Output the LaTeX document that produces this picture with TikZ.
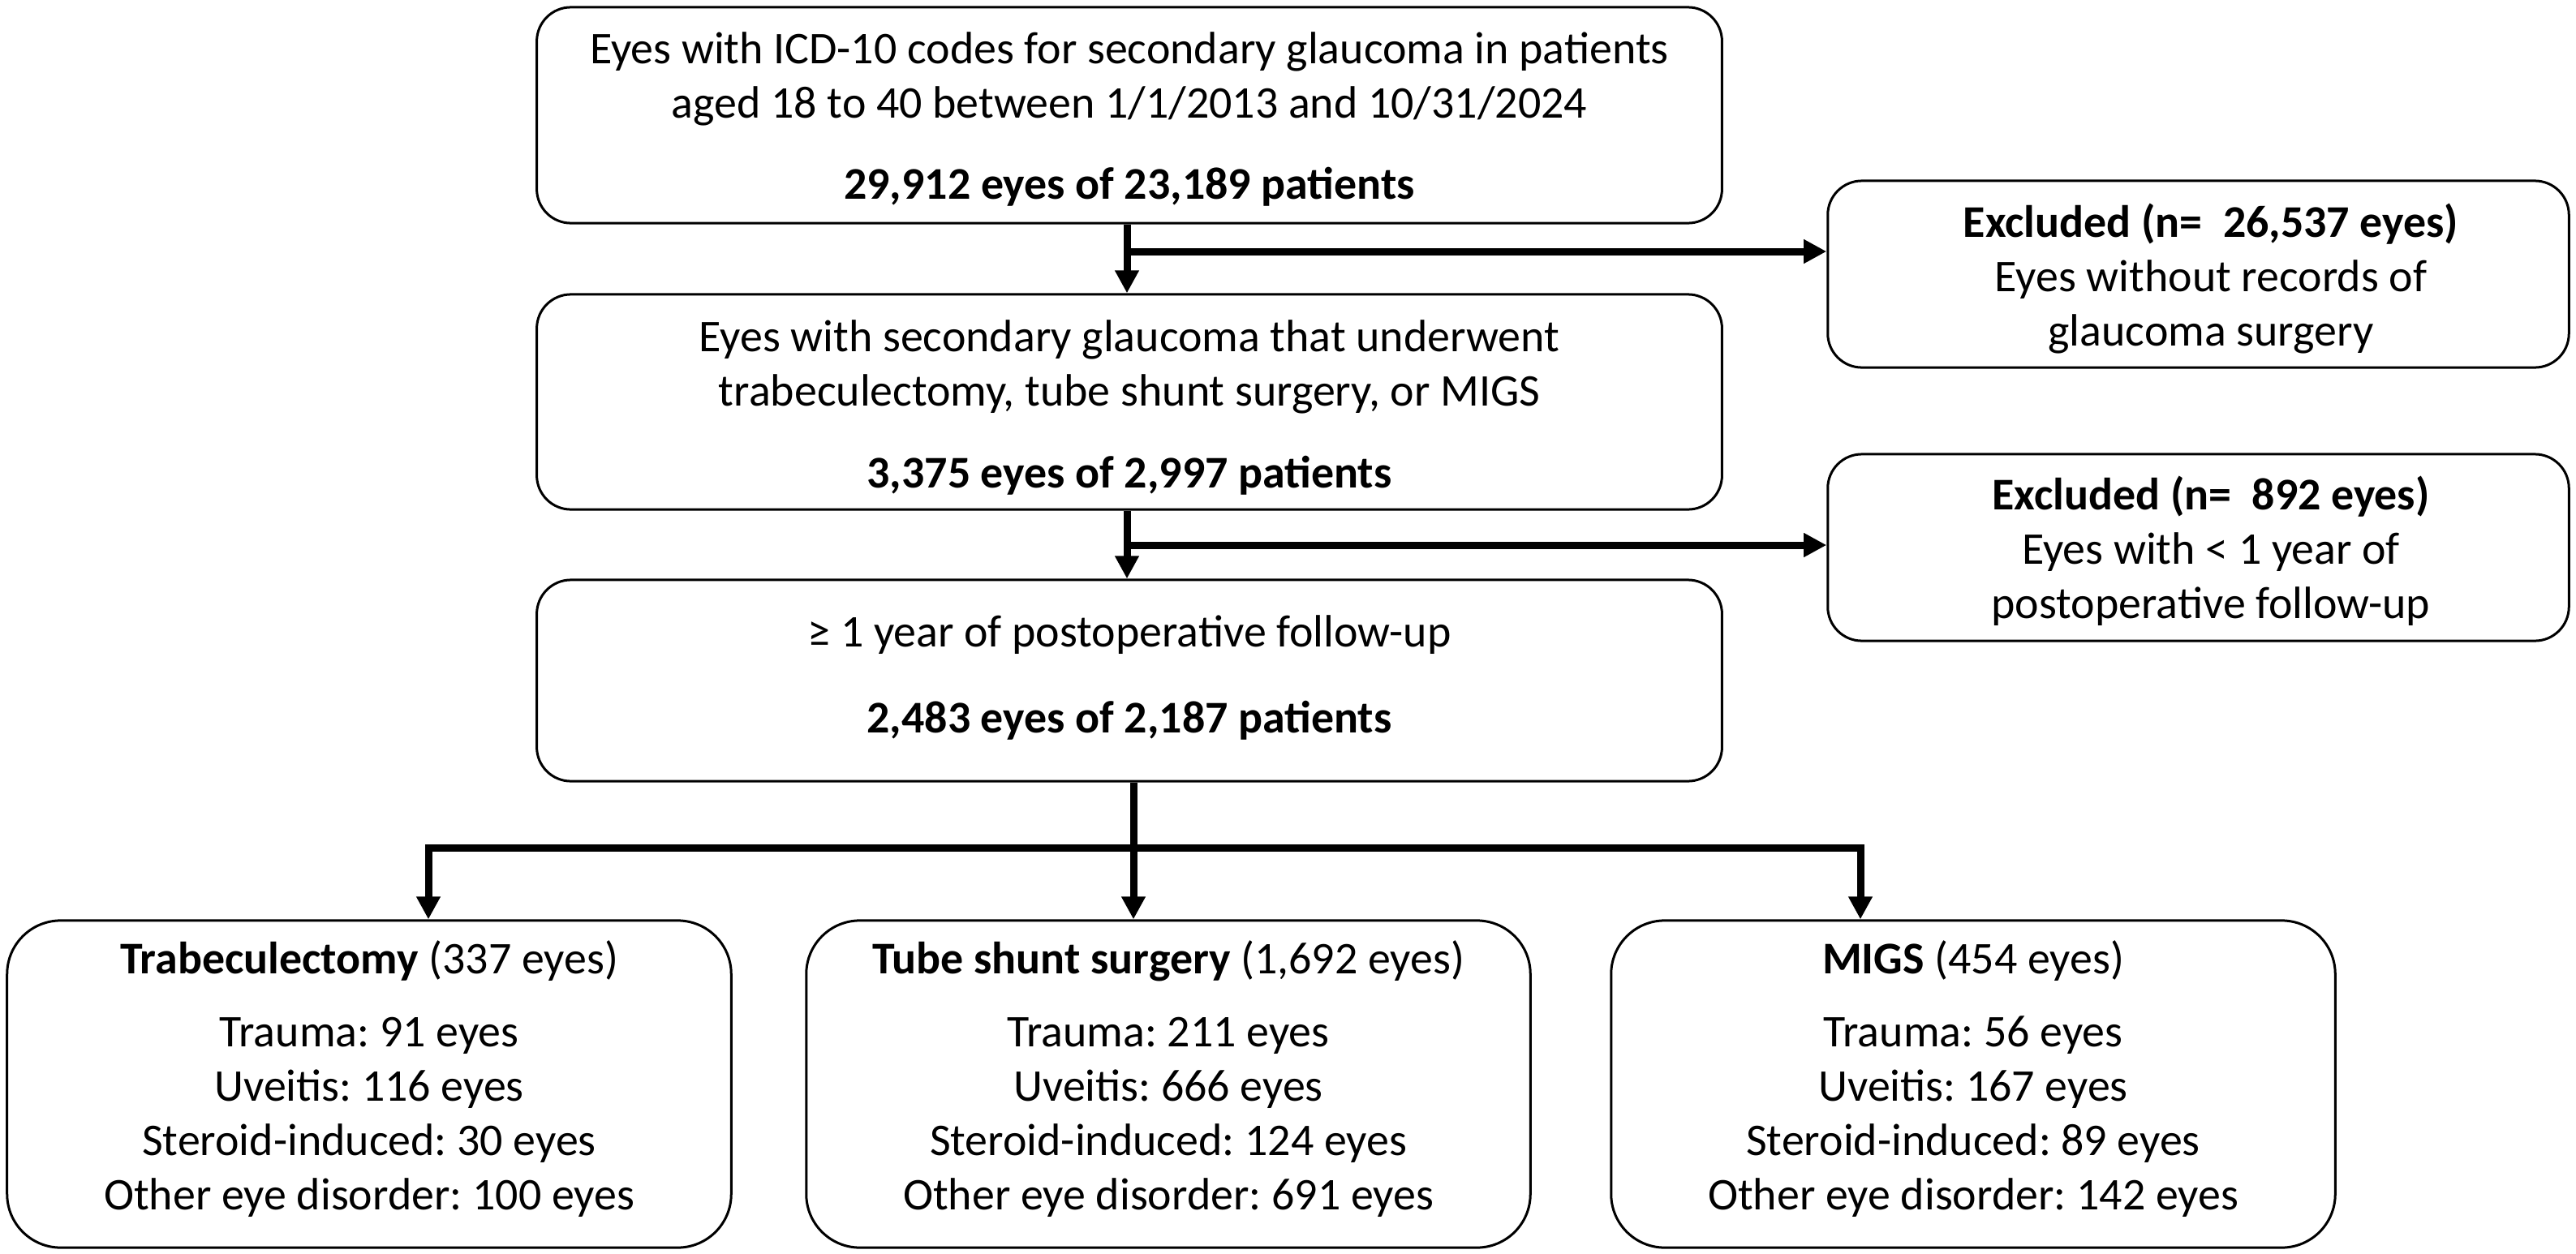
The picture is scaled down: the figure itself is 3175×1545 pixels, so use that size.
\documentclass[tikz,border=0pt]{standalone}
\usepackage{fontspec}
\setmainfont{Carlito}
\usetikzlibrary{arrows.meta}
\frenchspacing
\tikzset{
  box/.style={draw, line width=0.03cm, rounded corners=0.42cm, inner sep=0pt, fill=white},
  wide/.style={box, minimum width=14.60cm},
  excl/.style={box, minimum width=9.13cm, minimum height=2.30cm},
  group/.style={box, rounded corners=0.66cm, minimum width=8.92cm, minimum height=4.03cm},
  txt/.style={inner sep=0pt, anchor=base, font=\frenchspacing\fontsize{15.9}{19.07}\selectfont},
  conn/.style={line width=0.09cm, line join=miter},
  arr/.style={conn, -{Triangle[length=0.28cm, width=0.28cm]}},
  darr/.style={conn, {Triangle[length=0.28cm, width=0.28cm]}-{Triangle[length=0.28cm, width=0.28cm]}}
}
\newcommand{\lines}[1]{\begin{tabular}[t]{@{}c@{}}#1\end{tabular}}
\begin{document}
\begin{tikzpicture}[x=0.01cm, y=-0.01cm]
\useasboundingbox[fill=white] (0,0) rectangle (3175,1545);

% boxes
\node[wide, minimum height=2.66cm] (b1) at (1392,142) {};
\node[wide, minimum height=2.65cm] (b2) at (1392,495.5) {};
\node[wide, minimum height=2.48cm] (b3) at (1392,839) {};
\node[excl] (e1) at (2709.5,338) {};
\node[excl] (e2) at (2709.5,675) {};
\node[group] (gA) at (455,1336.5) {};
\node[group] (gB) at (1440,1336.5) {};
\node[group] (gC) at (2432,1336.5) {};

% texts
\node[txt] (t1) at (1392,78) {\lines{Eyes with ICD-10 codes for secondary glaucoma in patients\\
 aged 18 to 40 between 1/1/2013 and 10/31/2024\\[0.33cm]
 \textbf{29,912 eyes of 23,189 patients}}};
\node[txt] (t2) at (1392,433) {\lines{Eyes with secondary glaucoma that underwent\\
 trabeculectomy, tube shunt surgery, or MIGS\\[0.34cm]
 \textbf{3,375 eyes of 2,997 patients}}};
\node[txt] (t3) at (1392,797) {\lines{≥ 1 year of postoperative follow-up\\[0.39cm]
 \textbf{2,483 eyes of 2,187 patients}}};
\node[txt] (te1) at (2725,292) {\lines{\textbf{Excluded (n=\ \ 26,537 eyes)}\\
 Eyes without records of\\ glaucoma surgery}};
\node[txt] (te2) at (2725,628) {\lines{\textbf{Excluded (n=\ \ 892 eyes)}\\
 Eyes with < 1 year of\\ postoperative follow-up}};
\node[txt] (tA) at (455,1200) {\lines{\textbf{Trabeculectomy} (337 eyes)\\[0.23cm]
 Trauma: 91 eyes\\ Uveitis: 116 eyes\\ Steroid-induced: 30 eyes\\ Other eye disorder: 100 eyes}};
\node[txt] (tB) at (1440,1200) {\lines{\textbf{Tube shunt surgery} (1,692 eyes)\\[0.23cm]
 Trauma: 211 eyes\\ Uveitis: 666 eyes\\ Steroid-induced: 124 eyes\\ Other eye disorder: 691 eyes}};
\node[txt] (tC) at (2432,1200) {\lines{\textbf{MIGS} (454 eyes)\\[0.23cm]
 Trauma: 56 eyes\\ Uveitis: 167 eyes\\ Steroid-induced: 89 eyes\\ Other eye disorder: 142 eyes}};

% junction points
\coordinate (s1) at (1389,310);
\coordinate (s2) at (1389,672);
\coordinate (jA) at (528,1045);
\coordinate (jB) at (1397,1045);
\coordinate (jC) at (2293,1045);

% connectors
\draw[arr] (b1.south -| s1) -- (s1 |- b2.north);
\draw[arr] (s1) -- (s1 -| e1.west);
\draw[arr] (b2.south -| s2) -- (s2 |- b3.north);
\draw[arr] (s2) -- (s2 -| e2.west);
\draw[darr] (jA |- gA.north) -- (jA) -- (jC) -- (jC |- gC.north);
\draw[arr] (b3.south -| jB) -- (jB |- gB.north);
\end{tikzpicture}
\end{document}
